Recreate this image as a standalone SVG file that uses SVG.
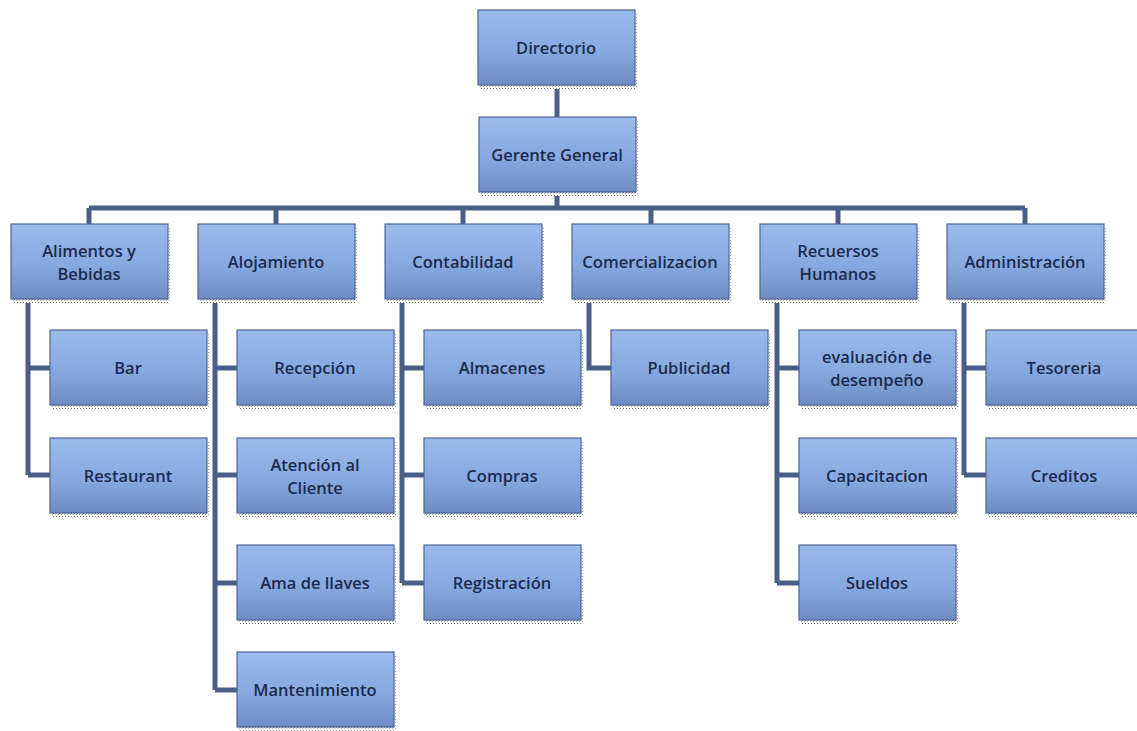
<svg xmlns="http://www.w3.org/2000/svg" width="1137" height="731" viewBox="0 0 1137 731">
<defs>
<linearGradient id="g" x1="0" y1="0" x2="0" y2="1">
<stop offset="0" stop-color="#9bbbec"/>
<stop offset="0.55" stop-color="#87a8e0"/>
<stop offset="1" stop-color="#6e8cc4"/>
</linearGradient>
<pattern id="dots" width="3" height="3" patternUnits="userSpaceOnUse">
<rect width="3" height="3" fill="#fff"/>
<rect width="1" height="1" fill="#777"/>
<rect x="2" y="1" width="1" height="1" fill="#aaa"/>
</pattern>
<style>
.b{fill:url(#g);stroke:#4e6594;stroke-width:1.2}
.s{fill:url(#dots)}
.t{font-family:"Open Sans","Liberation Sans",sans-serif;font-size:16.5px;fill:#1c2b4d;text-anchor:middle;font-weight:600}
.c{stroke:#4a5f88;stroke-width:5;fill:none}
</style>
<g id="box"><rect class="s" x="2" y="4" width="157" height="75"/><rect class="b" x="0" y="0" width="157" height="75"/></g>
</defs>
<g id="connectors">
<path class="c" d="M557 85 V117 M557 192 V208 M89 208 H1025 M89 208 V224 M276 208 V224 M463 208 V224 M651 208 V224 M838 208 V224 M1025 208 V224"/>
<path class="c" d="M28 299 V475 M28 368 H50 M28 475 H50"/>
<path class="c" d="M215 299 V690 M215 368 H237 M215 475 H237 M215 583 H237 M215 690 H237"/>
<path class="c" d="M402 299 V583 M402 368 H424 M402 475 H424 M402 583 H424"/>
<path class="c" d="M589 299 V368 H611"/>
<path class="c" d="M777 299 V583 M777 368 H799 M777 475 H799 M777 583 H799"/>
<path class="c" d="M964 299 V475 M964 368 H986 M964 475 H986"/>
</g>
<g id="n-directorio"><use href="#box" x="478" y="10"/><text class="t" x="556" y="54">Directorio</text></g>
<g id="n-gerente"><use href="#box" x="479" y="117"/><text class="t" x="557" y="161">Gerente General</text></g>
<g id="n-alimentos"><use href="#box" x="11" y="224"/><text class="t" x="89" y="257">Alimentos y</text><text class="t" x="89" y="280">Bebidas</text></g>
<g id="n-alojamiento"><use href="#box" x="198" y="224"/><text class="t" x="276" y="268">Alojamiento</text></g>
<g id="n-contabilidad"><use href="#box" x="385" y="224"/><text class="t" x="463" y="268">Contabilidad</text></g>
<g id="n-comercializacion"><use href="#box" x="572" y="224"/><text class="t" x="650" y="268">Comercializacion</text></g>
<g id="n-rrhh"><use href="#box" x="760" y="224"/><text class="t" x="838" y="257">Recuersos</text><text class="t" x="838" y="280">Humanos</text></g>
<g id="n-administracion"><use href="#box" x="947" y="224"/><text class="t" x="1025" y="268">Administración</text></g>
<g id="n-bar"><use href="#box" x="50" y="330"/><text class="t" x="128" y="374">Bar</text></g>
<g id="n-restaurant"><use href="#box" x="50" y="438"/><text class="t" x="128" y="482">Restaurant</text></g>
<g id="n-recepcion"><use href="#box" x="237" y="330"/><text class="t" x="315" y="374">Recepción</text></g>
<g id="n-atencion"><use href="#box" x="237" y="438"/><text class="t" x="315" y="471">Atención al</text><text class="t" x="315" y="494">Cliente</text></g>
<g id="n-ama"><use href="#box" x="237" y="545"/><text class="t" x="315" y="589">Ama de llaves</text></g>
<g id="n-mantenimiento"><use href="#box" x="237" y="652"/><text class="t" x="315" y="696">Mantenimiento</text></g>
<g id="n-almacenes"><use href="#box" x="424" y="330"/><text class="t" x="502" y="374">Almacenes</text></g>
<g id="n-compras"><use href="#box" x="424" y="438"/><text class="t" x="502" y="482">Compras</text></g>
<g id="n-registracion"><use href="#box" x="424" y="545"/><text class="t" x="502" y="589">Registración</text></g>
<g id="n-publicidad"><use href="#box" x="611" y="330"/><text class="t" x="689" y="374">Publicidad</text></g>
<g id="n-evaluacion"><use href="#box" x="799" y="330"/><text class="t" x="877" y="363">evaluación de</text><text class="t" x="877" y="386">desempeño</text></g>
<g id="n-capacitacion"><use href="#box" x="799" y="438"/><text class="t" x="877" y="482">Capacitacion</text></g>
<g id="n-sueldos"><use href="#box" x="799" y="545"/><text class="t" x="877" y="589">Sueldos</text></g>
<g id="n-tesoreria"><use href="#box" x="986" y="330"/><text class="t" x="1064" y="374">Tesoreria</text></g>
<g id="n-creditos"><use href="#box" x="986" y="438"/><text class="t" x="1064" y="482">Creditos</text></g>
</svg>
